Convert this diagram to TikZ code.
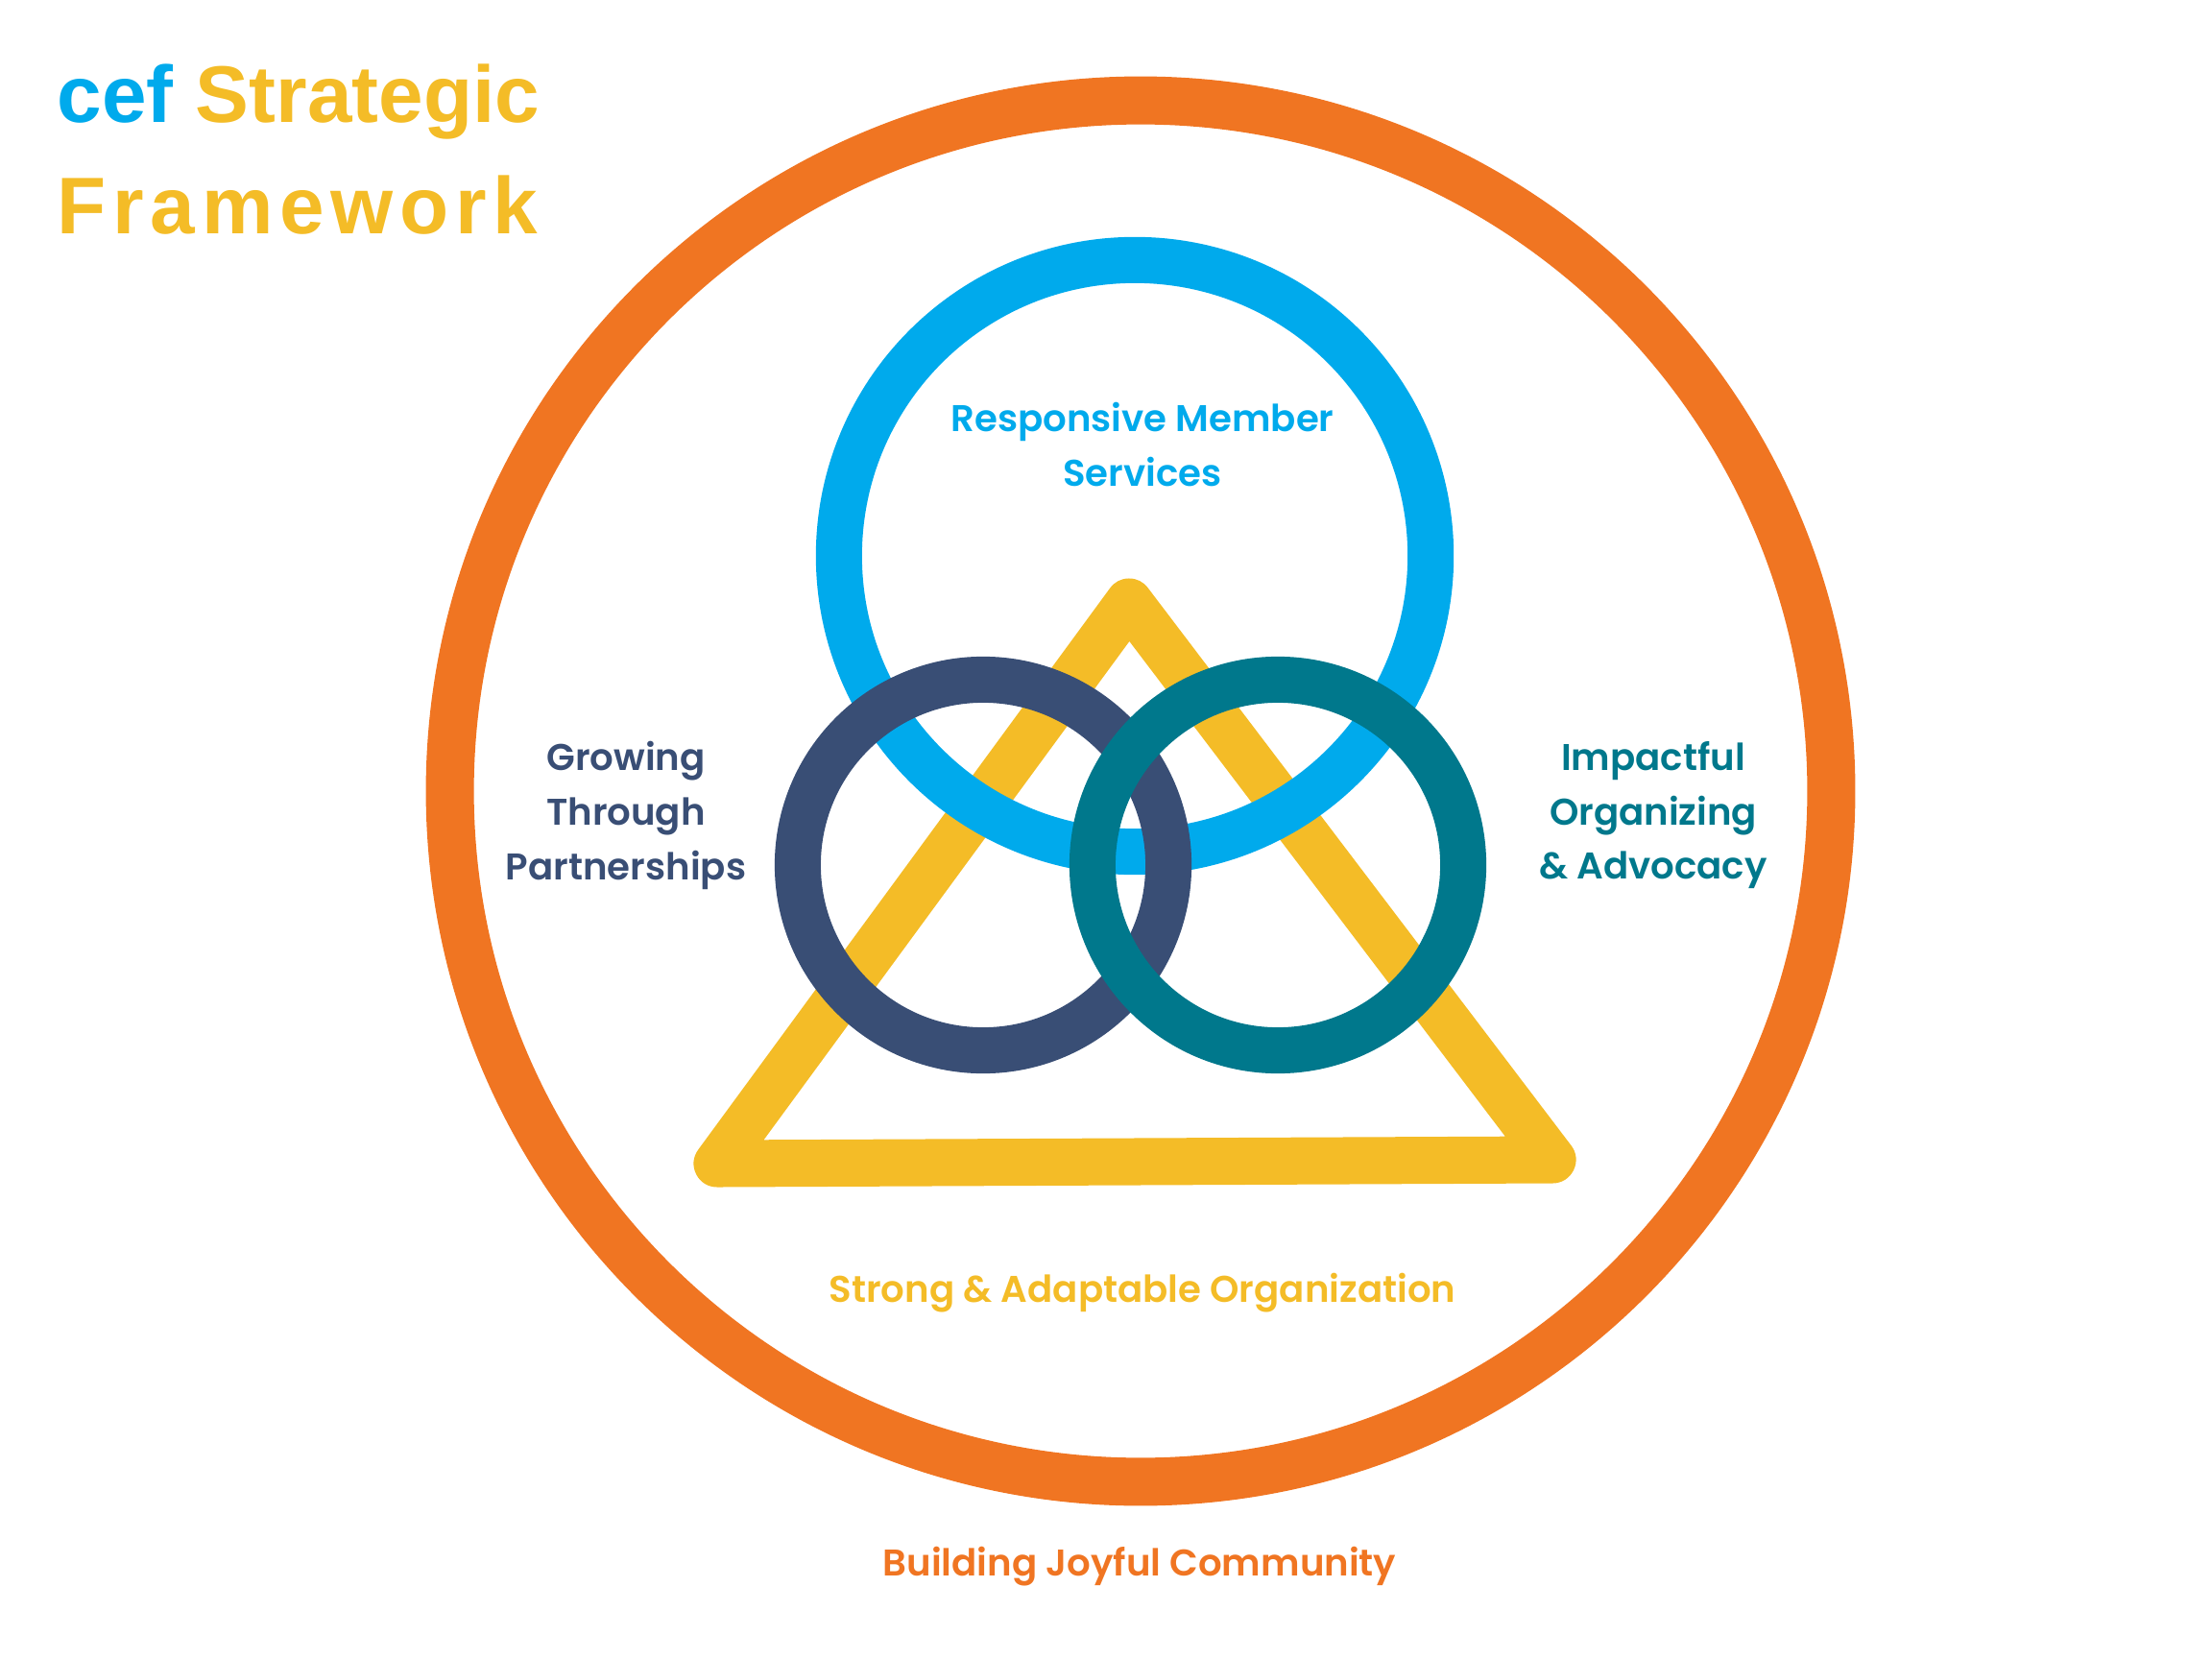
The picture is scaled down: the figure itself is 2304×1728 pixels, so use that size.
\documentclass[tikz,border=0pt]{standalone}
\usepackage{fontspec}
\setmainfont{Poppins SemiBold}
\newfontfamily\titlefont{Liberation Sans Bold}
\newfontfamily\spacedfont{Liberation Sans Bold}[LetterSpace=8]
\definecolor{cefOrange}{RGB}{240,117,34}
\definecolor{cefYellow}{RGB}{244,188,39}
\definecolor{cefBlue}{RGB}{0,170,236}
\definecolor{cefNavy}{RGB}{57,78,117}
\definecolor{cefTeal}{RGB}{0,120,140}
\begin{document}
\begin{tikzpicture}[x=.01cm,y=-.01cm,
    ring/.style={line width=.48cm},
    lbl/.style={align=center,font=\fontsize{11}{16.2}\selectfont}]
    \useasboundingbox (0,0) rectangle (2304,1728);
    % title
    \node[anchor=base west,inner sep=0,font=\titlefont\fontsize{23.8}{28}\selectfont] (cef) at (59,128) {\textcolor{cefBlue}{cef} \textcolor{cefYellow}{Strategic}};
    \node[anchor=base west,inner sep=0,font=\spacedfont\fontsize{23.8}{28}\selectfont,text=cefYellow] (fw) at (59,244) {Framework};
    % rings and triangle
    \draw[cefOrange,line width=.5cm] (1188,824) circle[radius=7.19cm];
    \draw[cefYellow,line width=.49cm,line join=round] (1176,627)--(747,1212)--(1617,1208)--cycle;
    \draw[cefBlue,ring] (1182,579) circle[radius=3.08cm];
    \draw[cefNavy,ring] (1024,901) circle[radius=1.93cm];
    \draw[cefTeal,ring] (1331,901) circle[radius=1.93cm];
    % labels
    \node[lbl,text=cefBlue] (resp) at (1190,463) {Responsive Member\\Services};
    \node[lbl,text=cefNavy] (grow) at (652,849) {Growing\\Through\\Partnerships};
    \node[lbl,text=cefTeal] (impact) at (1722,849) {Impactful\\Organizing\\\& Advocacy};
    \node[lbl,text=cefYellow] (strong) at (1190,1347) {Strong \& Adaptable Organization};
    \node[lbl,text=cefOrange] (build) at (1187,1632) {Building Joyful Community};
\end{tikzpicture}
\end{document}
